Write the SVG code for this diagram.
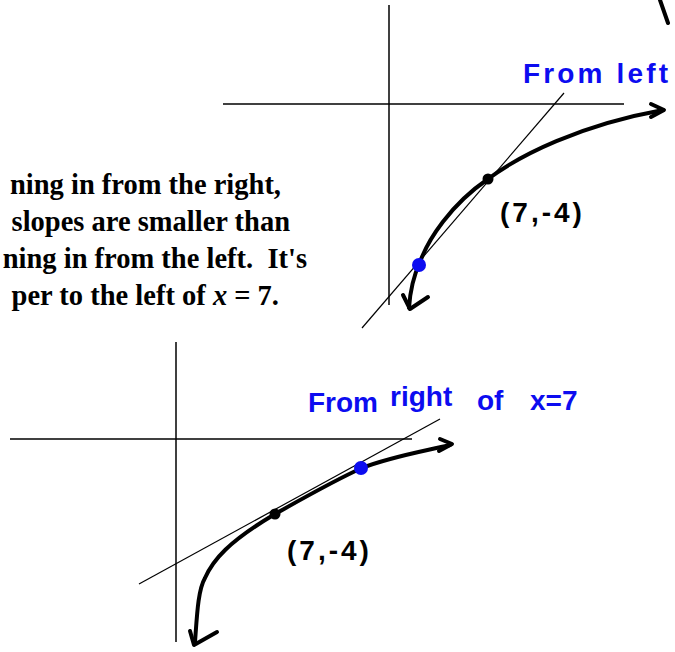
<svg xmlns="http://www.w3.org/2000/svg" width="675" height="652" viewBox="0 0 675 652">
  <style>
    .axis { stroke:#000; stroke-width:1.5; fill:none; }
    .tan { stroke:#000; stroke-width:1.2; fill:none; }
    .curve { stroke:#000; stroke-width:4; fill:none; stroke-linecap:round; stroke-linejoin:round; }
    .body { font-family:"Liberation Serif","Times New Roman",serif; font-weight:bold; font-size:28.5px; fill:#000; }
    .hand { font-family:"Liberation Sans",Arial,sans-serif; font-weight:bold; font-size:28px; }
    .black { fill:#000; }
    .blue { fill:#0c0cf0; }
  </style>
  <rect width="675" height="652" fill="#fff"/>

  <g id="explanation" class="body" text-anchor="end">
    <text x="281" y="194">ning in from the right,</text>
    <text x="290" y="231">slopes are smaller than</text>
    <text x="307" y="268" xml:space="preserve">ning in from the left.  It's</text>
    <text x="279" y="305">per to the left of <tspan font-style="italic">x</tspan> = 7.</text>
  </g>

  <g id="graph-top">
    <line class="axis" x1="389" y1="5" x2="389" y2="305"/>
    <line class="axis" x1="223" y1="104" x2="624" y2="104"/>
    <line class="tan" x1="564" y1="93" x2="362" y2="328"/>
    <path class="curve" d="M409,308 C410,292 414,275 420,262 C428,240 450,205 488,179 C520,155 580,125 663,110"/>
    <path class="curve" d="M651,104 L664,110 L651,117"/>
    <path class="curve" d="M403,295 L410,309 L428,297"/>
    <line class="curve" x1="660" y1="0" x2="668" y2="23" stroke-width="3.5"/>
    <circle cx="488" cy="179" r="5.5" fill="#000"/>
    <circle cx="419" cy="265" r="7" fill="#0c0cf0"/>
    <text class="hand black" x="500" y="222" letter-spacing="3">(7,-4)</text>
    <text class="hand blue" x="523" y="83" textLength="145" lengthAdjust="spacing">From left</text>
  </g>

  <g id="graph-bottom">
    <line class="axis" x1="176" y1="342" x2="176" y2="642"/>
    <line class="axis" x1="10" y1="439" x2="412" y2="439"/>
    <line class="tan" x1="139" y1="584" x2="440" y2="419"/>
    <path class="curve" d="M195,642 C197,615 198,590 205,578 C213,560 228,542 275,514 C300,500 335,480 362,468 C390,457 420,452 450,445"/>
    <path class="curve" d="M440,439 L452,444 L439,451"/>
    <path class="curve" d="M190,631 L194,645 L217,632"/>
    <circle cx="275" cy="514" r="5.5" fill="#000"/>
    <circle cx="361" cy="468" r="7" fill="#0c0cf0"/>
    <text class="hand black" x="287" y="560" letter-spacing="3">(7,-4)</text>
    <text class="hand blue">
      <tspan x="308" y="412">From</tspan>
      <tspan x="390" y="406">right</tspan>
      <tspan x="477" y="410">of</tspan>
      <tspan x="530" y="410">x=7</tspan>
    </text>
  </g>
</svg>
